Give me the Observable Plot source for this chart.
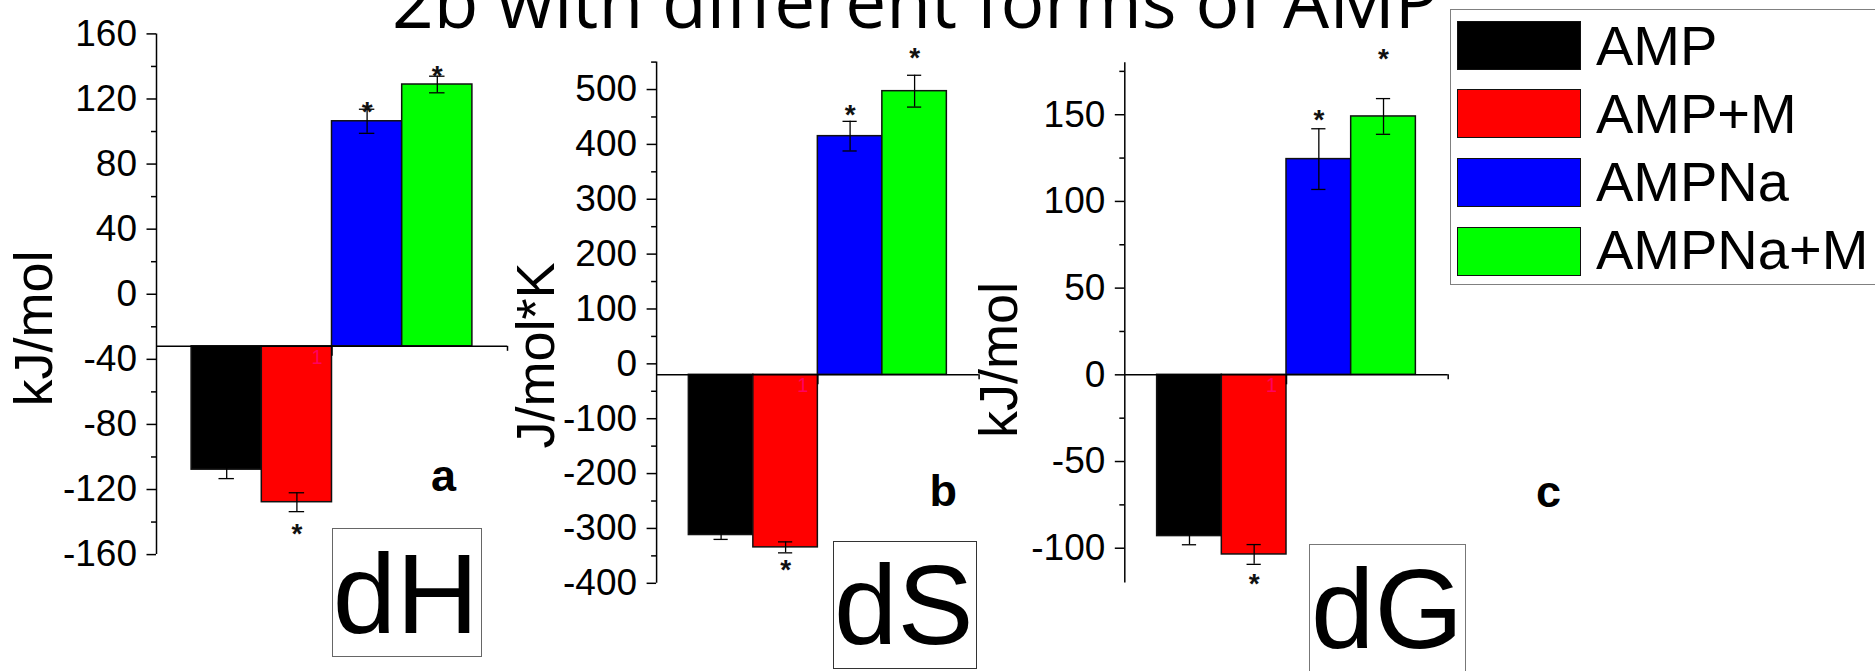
<!DOCTYPE html>
<html>
<head>
<meta charset="utf-8">
<script src="https://cdn.jsdelivr.net/npm/d3@7"></script>
<script src="https://cdn.jsdelivr.net/npm/@observablehq/plot@0.6"></script>
<style>
  html, body { margin: 0; padding: 0; background: #fff; }
  #chart { position: relative; width: 1875px; height: 671px; overflow: hidden; background: #fff;
           font-family: "Liberation Sans", Arial, sans-serif; }
  .t { position: absolute; line-height: 0; white-space: nowrap; color: #000; }
  .box { position: absolute; box-sizing: border-box; background: #fff; }
  .legend { position: absolute; box-sizing: border-box; border: 1.5px solid #808080; background: #fff; }
  .sw { position: absolute; box-sizing: border-box; border: 1.5px solid #111; }
</style>
</head>
<body>
<div id="chart"></div>
<script>
// Series (one bar per form of AMP in each panel)
const categories = ["AMP", "AMP+M", "AMPNa", "AMPNa+M"];
const colors = ["#000000", "#ff0000", "#0000ff", "#00ff00"];
const significant = ["AMP+M", "AMPNa", "AMPNa+M"];

// dH, kJ/mol
const dH = [-107.8, -127.8, 106.3, 128.9];
const dHErr = [5.5, 5.8, 7.4, 5.1];
// dS, J/mol*K
const dS = [-312, -334.5, 415, 497];
const dSErr = [8, 10, 27, 29];
// dG, kJ/mol
const dG = [-93, -103.6, 124.4, 149];
const dGErr = [5, 5.7, 17.5, 10.3];

// Axis ticks
const ticksH = [-160, -120, -80, -40, 0, 40, 80, 120, 160];
const minorH = [-140, -100, -60, -20, 20, 60, 100, 140];
const ticksS = [-400, -300, -200, -100, 0, 100, 200, 300, 400, 500];
const minorS = [-350, -250, -150, -50, 50, 150, 250, 350, 450, 550];
const ticksG = [-100, -50, 0, 50, 100, 150];
const minorG = [-75, -25, 25, 75, 125, 175];

const W = 1875, H = 671;
const chart = document.getElementById("chart");

// Places text so that its baseline sits at y (line-height 0 puts the baseline
// at (ascent - descent)/2 below the box top).
function placeText(str, x, baseline, size, opts = {}) {
  const family = opts.family || "'Liberation Sans', Arial, sans-serif";
  const k = opts.k ?? 0.3465;
  const el = document.createElement("div");
  el.className = "t";
  el.textContent = str;
  el.style.left = x + "px";
  el.style.top = (baseline - k * size) + "px";
  el.style.fontSize = size + "px";
  el.style.fontFamily = family;
  if (opts.weight) el.style.fontWeight = opts.weight;
  chart.appendChild(el);
  return el;
}

// Title (runs off the top edge)
placeText("2b with different forms of AMP", 392, 28, 73, {family: "'Open Sans', sans-serif", k: 0.388});

const panels = [
  {values: dH, errors: dHErr, base: -32, domain: [-160, 160], major: ticksH, minor: minorH,
   label: "kJ/mol", frame: {left: 156, right: 507, top: 33.4, bottom: 554.1},
   labelAt: {x: 51.7, y: 328}, starDy: {"AMP+M": 22, "AMPNa": 3, "AMPNa+M": 0}},
  {values: dS, errors: dSErr, base: -20, domain: [-400, 550], major: ticksS, minor: minorS,
   label: "J/mol*K", frame: {left: 656.1, right: 978.6, top: 61.6, bottom: 582.8},
   labelAt: {x: 553.6, y: 355}, starDy: {"AMP+M": 17, "AMPNa": -6, "AMPNa+M": -17}},
  {values: dG, errors: dGErr, base: 0, domain: [-120, 180], major: ticksG, minor: minorG,
   label: "kJ/mol", frame: {left: 1124.3, right: 1447.7, top: 62.2, bottom: 582.4},
   labelAt: {x: 1016, y: 359.5}, starDy: {"AMP+M": 20, "AMPNa": -9, "AMPNa+M": -40}}
];

const capHalf = 0.11; // error-bar cap half width, as a fraction of a bar slot
const errColor = "#000";

for (const p of panels) {
  const rows = categories.map((c, i) => ({c, i, v: p.values[i], e: p.errors[i], color: colors[i]}));
  const pxPerUnit = (p.frame.bottom - p.frame.top) / (p.domain[1] - p.domain[0]);
  const tip = d => (d.v >= 0 ? d.v + d.e : d.v - d.e);
  const stars = rows.filter(d => significant.includes(d.c));

  const svg = Plot.plot({
    width: W, height: H,
    marginLeft: p.frame.left, marginRight: W - p.frame.right,
    marginTop: p.frame.top, marginBottom: H - p.frame.bottom,
    style: {position: "absolute", left: "0px", top: "0px", background: "transparent",
            overflow: "visible", fontFamily: "'Liberation Sans', Arial, sans-serif", color: "#000"},
    x: {domain: [-1, 4], axis: null},
    y: {domain: p.domain, axis: null},
    color: {type: "identity"},
    marks: [
      // bars grow from the x axis
      Plot.rect(rows, {x1: d => d.i - 0.5, x2: d => d.i + 0.5, y1: p.base, y2: "v",
                       fill: "color", stroke: "#111", strokeWidth: 1.5}),
      // error bars
      Plot.ruleX(rows, {x: "i", y1: d => d.v - d.e, y2: d => d.v + d.e, stroke: errColor, strokeWidth: 1.3}),
      Plot.ruleY(rows, {y: d => d.v + d.e, x1: d => d.i - capHalf, x2: d => d.i + capHalf, stroke: errColor, strokeWidth: 1.3}),
      Plot.ruleY(rows, {y: d => d.v - d.e, x1: d => d.i - capHalf, x2: d => d.i + capHalf, stroke: errColor, strokeWidth: 1.3}),
      // significance marks
      ...stars.map(d => Plot.text([d], {x: "i", y: tip, text: () => "*", fontSize: 28, fontWeight: "bold",
                        dy: p.starDy[d.c], lineAnchor: "middle", fill: "#111"})),
      // axes
      Plot.ruleY([p.base], {stroke: "#000", strokeWidth: 1.5}),
      Plot.ruleX([-1], {stroke: "#000", strokeWidth: 1.5}),
      Plot.ruleX([1.5], {y1: p.base, y2: p.base - 10 / pxPerUnit, stroke: "#000", strokeWidth: 1.5}),
      Plot.ruleX([4], {y1: p.base, y2: p.base - 5 / pxPerUnit, stroke: "#000", strokeWidth: 1.5}),
      Plot.axisY(p.major, {tickSize: 9.5, tickPadding: 10, fontSize: 37, strokeWidth: 1.5,
                           tickFormat: d => String(d), label: null}),
      Plot.axisY(p.minor, {tickSize: 5, strokeWidth: 1.5, tickFormat: () => "", label: null}),
      // category tick label
      Plot.text(["1"], {x: () => 1.5, y: () => p.base, text: d => d, fontSize: 20, fill: "#ff0080",
                        fillOpacity: 0.75, lineAnchor: "top", dx: -15, dy: 3}),
      // y axis title
      Plot.text([p.label], {frameAnchor: "left", text: d => d, rotate: -90, fontSize: 54,
                            textAnchor: "middle", lineAnchor: "bottom",
                            dx: p.labelAt.x - p.frame.left,
                            dy: p.labelAt.y - (p.frame.top + p.frame.bottom) / 2})
    ]
  });
  chart.appendChild(svg);
}

// Panel letters
placeText("a", 431, 491.7, 45, {weight: "bold"});
placeText("b", 929.5, 506.7, 45, {weight: "bold"});
placeText("c", 1536, 508, 45, {weight: "bold"});

// Boxed quantity names
const boxes = [
  {text: "dH", left: 331.7, top: 528.3, right: 482.3, bottom: 657.3, x: 332.8, baseline: 633.3, border: "#666"},
  {text: "dS", left: 833.3, top: 540.7, right: 976.7, bottom: 669.3, x: 834.1, baseline: 645, border: "#333"},
  {text: "dG", left: 1309.3, top: 544.3, right: 1466, bottom: 690, x: 1311.1, baseline: 648.3, border: "#777"}
];
for (const b of boxes) {
  const el = document.createElement("div");
  el.className = "box";
  Object.assign(el.style, {left: b.left + "px", top: b.top + "px", width: (b.right - b.left) + "px",
                           height: (b.bottom - b.top) + "px", border: "1.5px solid " + b.border});
  chart.appendChild(el);
  placeText(b.text, b.x, b.baseline, 114);
}

// Legend
const legend = document.createElement("div");
legend.className = "legend";
Object.assign(legend.style, {left: "1450px", top: "9.3px", width: "440px", height: "276px"});
chart.appendChild(legend);
categories.forEach((c, i) => {
  const top = 20.7 + i * 68.6;
  const sw = document.createElement("div");
  sw.className = "sw";
  Object.assign(sw.style, {left: "1457.3px", top: top + "px", width: "123.7px", height: "49px", background: colors[i]});
  chart.appendChild(sw);
  placeText(c, 1596, 65 + i * 68.3, 56);
});
</script>
</body>
</html>
